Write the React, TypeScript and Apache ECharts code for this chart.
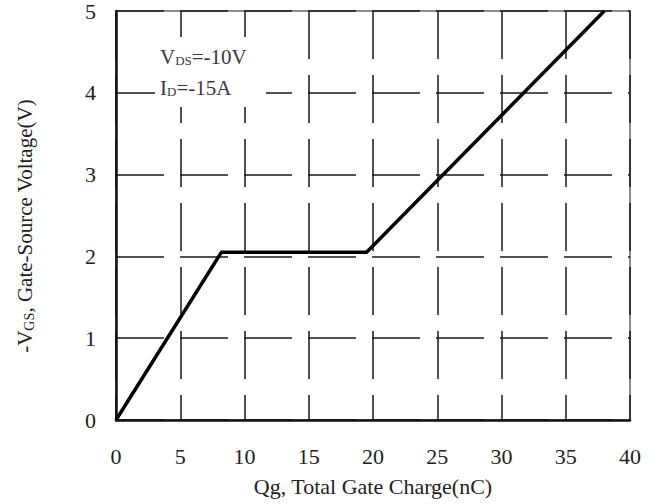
import React, { useEffect, useRef } from "react";
import * as echarts from "echarts";

const xTicks = [0, 5, 10, 15, 20, 25, 30, 35, 40];
const yTicks = [0, 1, 2, 3, 4, 5];
const chargeNC = [0, 8.2, 19.5, 38];
const vgsVolts = [0, 2.05, 2.05, 5];

const FONT = "Liberation Serif, Times New Roman, serif";

export default function App() {
  const ref = useRef<HTMLDivElement>(null);
  useEffect(() => {
    if (!ref.current) return;
    const chart = echarts.init(ref.current, undefined, { renderer: "svg" });
    const data = chargeNC.map((x, i) => [x, vgsVolts[i]]);
    chart.setOption({
      animation: false,
      backgroundColor: "#ffffff",
      grid: {
        left: 116,
        right: 31,
        top: 10,
        bottom: 84,
        show: true,
        borderColor: "#8a8a8a",
        borderWidth: 2,
        backgroundColor: "transparent",
      },
      xAxis: {
        type: "value",
        min: xTicks[0],
        max: xTicks[xTicks.length - 1],
        interval: 5,
        axisLine: { show: true, onZero: false, lineStyle: { color: "#111", width: 2.5 } },
        axisTick: { show: false },
        axisLabel: { margin: 25, fontFamily: FONT, fontSize: 22, color: "#222" },
        splitLine: { show: true, lineStyle: { color: "#1a1a1a", width: 1.5, type: [48, 16] } },
        name: "Qg, Total Gate Charge(nC)",
        nameLocation: "middle",
        nameGap: 55,
        nameTextStyle: { fontFamily: FONT, fontSize: 22, color: "#222" },
      },
      yAxis: {
        type: "value",
        min: yTicks[0],
        max: yTicks[yTicks.length - 1],
        interval: 1,
        axisLine: { show: true, onZero: false, lineStyle: { color: "#111", width: 2.5 } },
        axisTick: { show: false },
        axisLabel: { margin: 20, fontFamily: FONT, fontSize: 22, color: "#222" },
        splitLine: { show: true, lineStyle: { color: "#1a1a1a", width: 1.5, type: [48, 16] } },
      },
      graphic: [
        {
          type: "text",
          x: 25,
          y: 226,
          rotation: Math.PI / 2,
          style: {
            text: "-V{s|GS}, Gate-Source Voltage(V)",
            fontFamily: FONT,
            fontSize: 21,
            fill: "#222",
            align: "center",
            verticalAlign: "middle",
            rich: {
              s: { fontFamily: FONT, fontSize: 14, fill: "#222", padding: [8, 0, 0, 0] },
            },
          },
        },
        {
          type: "rect",
          shape: { x: 155, y: 37, width: 111, height: 70 },
          style: { fill: "#ffffff" },
          z: 10,
        },
        {
          type: "text",
          x: 160,
          y: 57,
          z: 11,
          style: {
            text: "V{s|DS}=-10V",
            fontFamily: FONT,
            fontSize: 21,
            fill: "#3d3545",
            verticalAlign: "middle",
            rich: { s: { fontFamily: FONT, fontSize: 13, fill: "#3d3545", padding: [7, 0, 0, 0] } },
          },
        },
        {
          type: "text",
          x: 160,
          y: 88,
          z: 11,
          style: {
            text: "I{s|D}=-15A",
            fontFamily: FONT,
            fontSize: 21,
            fill: "#3d3545",
            verticalAlign: "middle",
            rich: { s: { fontFamily: FONT, fontSize: 13, fill: "#3d3545", padding: [7, 0, 0, 0] } },
          },
        },
      ],
      series: [
        {
          type: "line",
          data,
          symbol: "none",
          clip: false,
          lineStyle: { color: "#000", width: 3.5 },
          z: 5,
        },
      ],
    });
    return () => chart.dispose();
  }, []);
  return (
    <div
      ref={ref}
      style={{ position: "fixed", left: 0, top: 0, width: 661, height: 504 }}
    />
  );
}
